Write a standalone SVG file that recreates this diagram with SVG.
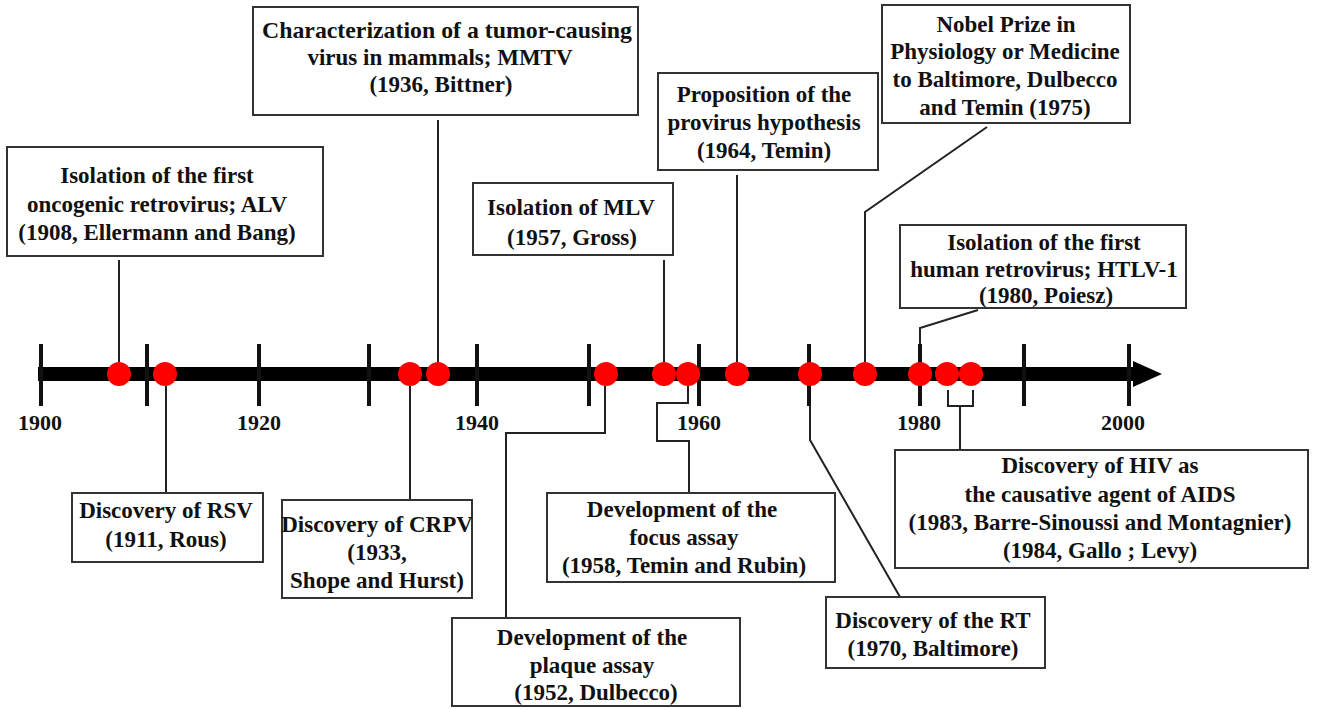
<svg xmlns="http://www.w3.org/2000/svg" width="1317" height="709" viewBox="0 0 1317 709">
<style>
.box{fill:#fff;stroke:#333;stroke-width:2}
.t{font-family:"Liberation Serif","Times New Roman",serif;font-weight:bold;font-size:23px;fill:#111;text-anchor:middle}
.yr{font-family:"Liberation Serif","Times New Roman",serif;font-weight:bold;font-size:22px;fill:#111;text-anchor:middle}
.c{fill:none;stroke:#222;stroke-width:2}
.tick{stroke:#111;stroke-width:4}
.dot{fill:#f00}
</style>
<rect width="1317" height="709" fill="#fff"/>
<g id="connectors">
<path class="c" d="M119 260V362"/>
<path class="c" d="M438 120V362"/>
<path class="c" d="M664 260V362"/>
<path class="c" d="M737 175V362"/>
<path class="c" d="M987 127L865 212V362"/>
<path class="c" d="M978 310L920 328V362"/>
<path class="c" d="M166 386V493"/>
<path class="c" d="M410 386V500"/>
<path class="c" d="M605 386V433H506V618"/>
<path class="c" d="M688 386V403H657V441H689V493"/>
<path class="c" d="M810 386V440L900 597"/>
<path class="c" d="M948 390V406H973V390M960 406V450"/>
</g>
<g id="axis">
<rect x="38" y="367" width="1097" height="14" fill="#000"/>
<polygon points="1133,361 1162,374 1133,387" fill="#000"/>
<g class="tick">
<line x1="41" y1="344" x2="41" y2="406"/>
<line x1="147" y1="344" x2="147" y2="406"/>
<line x1="259" y1="344" x2="259" y2="406"/>
<line x1="369" y1="344" x2="369" y2="406"/>
<line x1="477" y1="344" x2="477" y2="406"/>
<line x1="589" y1="344" x2="589" y2="406"/>
<line x1="699" y1="344" x2="699" y2="406"/>
<line x1="809" y1="344" x2="809" y2="406"/>
<line x1="920" y1="344" x2="920" y2="406"/>
<line x1="1024" y1="344" x2="1024" y2="406"/>
<line x1="1129" y1="344" x2="1129" y2="406"/>
</g>
<text class="yr" x="40" y="430">1900</text>
<text class="yr" x="259" y="430">1920</text>
<text class="yr" x="477" y="430">1940</text>
<text class="yr" x="699" y="430">1960</text>
<text class="yr" x="919" y="430">1980</text>
<text class="yr" x="1123" y="430">2000</text>
<g class="dot">
<circle cx="119" cy="374" r="12"/>
<circle cx="165" cy="374" r="12"/>
<circle cx="410" cy="374" r="12"/>
<circle cx="438" cy="374" r="12"/>
<circle cx="606" cy="374" r="12"/>
<circle cx="664" cy="374" r="12"/>
<circle cx="688" cy="374" r="12"/>
<circle cx="737" cy="374" r="12"/>
<circle cx="810" cy="374" r="12"/>
<circle cx="865" cy="374" r="12"/>
<circle cx="920" cy="374" r="12"/>
<circle cx="947" cy="374" r="12"/>
<circle cx="971" cy="374" r="12"/>
</g>
</g>
<g id="alv">
<rect class="box" x="7" y="147" width="316" height="109"/>
<text class="t" x="157" y="183">Isolation of the first</text>
<text class="t" x="157" y="212">oncogenic retrovirus; ALV</text>
<text class="t" x="157" y="240">(1908, Ellermann and Bang)</text>
</g>
<g id="mmtv">
<rect class="box" x="253" y="7" width="385" height="108"/>
<text class="t" x="447" y="38" textLength="370" lengthAdjust="spacingAndGlyphs">Characterization of a tumor-causing</text>
<text class="t" x="440" y="65">virus in mammals; MMTV</text>
<text class="t" x="441" y="92">(1936, Bittner)</text>
</g>
<g id="mlv">
<rect class="box" x="473" y="183" width="200" height="72"/>
<text class="t" x="571" y="215">Isolation of MLV</text>
<text class="t" x="572" y="245">(1957, Gross)</text>
</g>
<g id="provirus">
<rect class="box" x="658" y="73" width="220" height="97"/>
<text class="t" x="764" y="102">Proposition of the</text>
<text class="t" x="764" y="130">provirus hypothesis</text>
<text class="t" x="764" y="158">(1964, Temin)</text>
</g>
<g id="nobel">
<rect class="box" x="882" y="5" width="248" height="118"/>
<text class="t" x="1006" y="32">Nobel Prize in</text>
<text class="t" x="1005" y="59">Physiology or Medicine</text>
<text class="t" x="1005" y="87">to Baltimore, Dulbecco</text>
<text class="t" x="1005" y="115">and Temin (1975)</text>
</g>
<g id="htlv">
<rect class="box" x="900" y="225" width="286" height="83"/>
<text class="t" x="1044" y="250">Isolation of the first</text>
<text class="t" x="1044" y="277">human retrovirus; HTLV-1</text>
<text class="t" x="1046" y="303">(1980, Poiesz)</text>
</g>
<g id="rsv">
<rect class="box" x="72" y="493" width="191" height="69"/>
<text class="t" x="166" y="518">Discovery of RSV</text>
<text class="t" x="166" y="547">(1911, Rous)</text>
</g>
<g id="crpv">
<rect class="box" x="282" y="500" width="190" height="98"/>
<text class="t" x="377" y="532">Discovery of CRPV</text>
<text class="t" x="377" y="560">(1933,</text>
<text class="t" x="377" y="588">Shope and Hurst)</text>
</g>
<g id="plaque">
<rect class="box" x="452" y="618" width="288" height="88"/>
<text class="t" x="592" y="645">Development of the</text>
<text class="t" x="592" y="673">plaque assay</text>
<text class="t" x="596" y="700">(1952, Dulbecco)</text>
</g>
<g id="focus">
<rect class="box" x="547" y="493" width="288" height="89"/>
<text class="t" x="682" y="517">Development of the</text>
<text class="t" x="684" y="545">focus assay</text>
<text class="t" x="684" y="573">(1958, Temin and Rubin)</text>
</g>
<g id="rt">
<rect class="box" x="826" y="597" width="219" height="71"/>
<text class="t" x="933" y="628">Discovery of the RT</text>
<text class="t" x="933" y="656">(1970, Baltimore)</text>
</g>
<g id="hiv">
<rect class="box" x="895" y="450" width="413" height="118"/>
<text class="t" x="1100" y="473">Discovery of HIV as</text>
<text class="t" x="1100" y="502">the causative agent of AIDS</text>
<text class="t" x="1100" y="530">(1983, Barre-Sinoussi and Montagnier)</text>
<text class="t" x="1100" y="558">(1984, Gallo ; Levy)</text>
</g>
</svg>
